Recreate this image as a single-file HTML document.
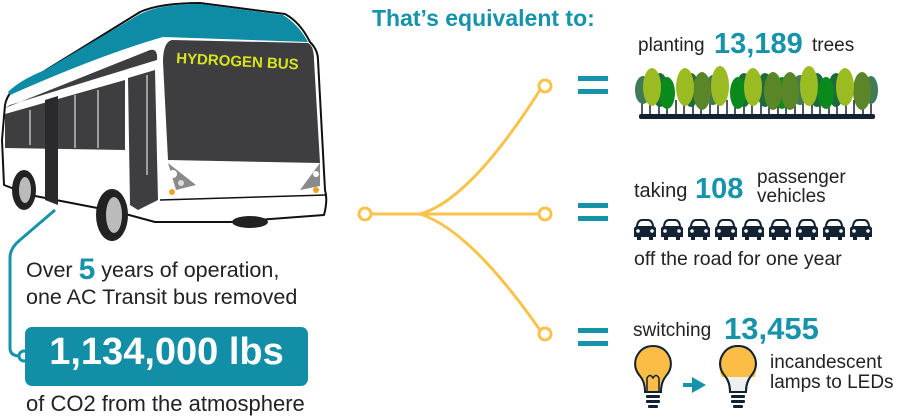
<!DOCTYPE html>
<html><head><meta charset="utf-8"><style>
body{margin:0;width:898px;height:419px;background:#fff;overflow:hidden;font-family:"Liberation Sans",sans-serif;color:#222}
.a{position:absolute;white-space:nowrap}
.t{color:#1593ab;font-weight:bold}
</style></head><body>
<svg width="898" height="419" style="position:absolute;left:0;top:0">
<path d="M55,210 L20,240 Q10,248 10,258 L10,348 Q10,356 20,356" fill="none" stroke="#1593ab" stroke-width="3"/>
<circle cx="24" cy="356" r="5" fill="#fff" stroke="#1593ab" stroke-width="3"/>
<rect x="25" y="327" width="283" height="59" rx="7" fill="#128fa6"/>
<g fill="none" stroke="#f9c24a" stroke-width="3">
<path d="M371,214 L420,214 M420,214 Q470,200 540,90 M420,214 L539,214 M420,214 Q470,230 540,330"/>
<circle cx="365" cy="214" r="6" fill="#fff"/>
<circle cx="545" cy="86" r="6" fill="#fff"/>
<circle cx="545" cy="214" r="6" fill="#fff"/>
<circle cx="545" cy="334" r="6" fill="#fff"/>
</g>
<g fill="#1593ab">
<rect x="578" y="76" width="30" height="5"/><rect x="578" y="89" width="30" height="5"/>
<rect x="578" y="203" width="30" height="5"/><rect x="578" y="216" width="30" height="5"/>
<rect x="578" y="328" width="30" height="5"/><rect x="578" y="341" width="30" height="5"/>
</g>
<g>
<rect x="639" y="114" width="236" height="5" rx="2" fill="#122233"/>
<g stroke="#122233" stroke-width="1.5">
<path d="M642,100V115M650,100V115M659,100V115M667,100V115M676,100V115M684,100V115M693,100V115M701,100V115M710,100V115M718,100V115M727,100V115M735,100V115M744,100V115M752,100V115M761,100V115M769,100V115M778,100V115M786,100V115M795,100V115M803,100V115M812,100V115M820,100V115M829,100V115M837,100V115M846,100V115M854,100V115M863,100V115M871,100V115"/>
</g>
<ellipse cx="643" cy="90" rx="8" ry="14" fill="#3f7a59"/>
<ellipse cx="660" cy="90" rx="8" ry="17" fill="#1c6b3a"/>
<ellipse cx="691" cy="90" rx="8" ry="17" fill="#1c6b3a"/>
<ellipse cx="713" cy="90" rx="8" ry="15" fill="#3f7a59"/>
<ellipse cx="744" cy="90" rx="8" ry="17" fill="#1c6b3a"/>
<ellipse cx="765" cy="90" rx="8" ry="17" fill="#1c6b3a"/>
<ellipse cx="800" cy="90" rx="8" ry="15" fill="#3f7a59"/>
<ellipse cx="817" cy="90" rx="8" ry="17" fill="#1c6b3a"/>
<ellipse cx="836" cy="90" rx="8" ry="17" fill="#1c6b3a"/>
<ellipse cx="871" cy="90" rx="7" ry="14" fill="#3f7a59"/>
<ellipse cx="667" cy="93" rx="8" ry="16" fill="#0b8a1c"/>
<ellipse cx="738" cy="93" rx="8" ry="16" fill="#0b8a1c"/>
<ellipse cx="782" cy="93" rx="8" ry="16" fill="#0b8a1c"/>
<ellipse cx="826" cy="93" rx="8" ry="16" fill="#0b8a1c"/>
<ellipse cx="702" cy="91" rx="9" ry="19" fill="#5a8628"/>
<ellipse cx="773" cy="91" rx="9" ry="19" fill="#5a8628"/>
<ellipse cx="790" cy="91" rx="9" ry="19" fill="#5a8628"/>
<ellipse cx="862" cy="91" rx="9" ry="19" fill="#5a8628"/>
<ellipse cx="652" cy="87" rx="9" ry="19" fill="#9bbb23"/>
<ellipse cx="685" cy="87" rx="9" ry="19" fill="#9bbb23"/>
<ellipse cx="720" cy="86" rx="9" ry="20" fill="#9bbb23"/>
<ellipse cx="753" cy="87" rx="9" ry="19" fill="#9bbb23"/>
<ellipse cx="809" cy="86" rx="9" ry="20" fill="#9bbb23"/>
<ellipse cx="845" cy="87" rx="9" ry="19" fill="#9bbb23"/>
</g>
<defs><g id="car" fill="#122233">
<path d="M4,8 Q5,1 10,1 L16,1 Q21,1 22,8 L24,10 L24,19 L21,19 L21,22 L17,22 L17,19 L9,19 L9,22 L5,22 L5,19 L2,19 L2,10 Z"/>
<path d="M6,8 Q7,3 10,3 L16,3 Q19,3 20,8 Z" fill="#fff"/>
<circle cx="6" cy="13" r="1.8" fill="#fff"/><circle cx="20" cy="13" r="1.8" fill="#fff"/>
</g></defs>
<use href="#car" x="632" y="218"/><use href="#car" x="659" y="218"/><use href="#car" x="686" y="218"/><use href="#car" x="713" y="218"/><use href="#car" x="740" y="218"/><use href="#car" x="767" y="218"/><use href="#car" x="794" y="218"/><use href="#car" x="821" y="218"/><use href="#car" x="848" y="218"/>
<g stroke="#122233" stroke-width="2">
<path d="M645,392 Q645,382 640,376 Q633,368 636,358 Q641,346 653,346 Q665,346 670,358 Q673,368 666,376 Q661,382 661,392 Z" fill="#fbbd46"/>
<path d="M647,392 L647,378 Q650,373 653,378 Q656,373 659,378 L659,392" fill="none" stroke-width="1.5"/>
<path d="M730,392 Q730,382 725,376 Q718,368 721,358 Q726,346 738,346 Q750,346 755,358 Q758,368 751,376 Q746,382 746,392 Z" fill="#eef0ef"/>
<path d="M721.5,377 Q718,368 721,358 Q726,346 738,346 Q750,346 755,358 Q758,368 754.5,377 Z" fill="#fbbd46" stroke="none"/>
<path d="M730,392 Q730,382 725,376 Q718,368 721,358 Q726,346 738,346 Q750,346 755,358 Q758,368 751,376 Q746,382 746,392 Z" fill="none"/>
</g>
<g fill="#122233"><rect x="646" y="395" width="14" height="3" rx="1"/><rect x="646" y="400" width="14" height="3" rx="1"/><rect x="648" y="405" width="10" height="3" rx="1"/>
<rect x="731" y="395" width="14" height="3" rx="1"/><rect x="731" y="400" width="14" height="3" rx="1"/><rect x="733" y="405" width="10" height="3" rx="1"/></g>
<rect x="683" y="383" width="10" height="4" fill="#1593ab"/><path d="M692,377 L706,385 L692,393 Z" fill="#1593ab"/>
<g stroke="#111" stroke-width="2" stroke-linejoin="round">
<path d="M5,105 Q8,88 30,80 L140,12 Q160,3 200,3 L285,14 Q300,22 310,42 Q318,50 318,60 L325,190 Q328,200 324,215 L230,222 L155,222 L118,212 L30,195 L4,185 L2,140 Z" fill="#fff"/>
<path d="M8,92 Q20,80 45,70 L140,14 Q160,4 200,4 L283,15 Q298,24 308,42 L163,37 Q100,55 10,95 Z" fill="#0e8ca6" stroke-width="0"/>
<path d="M163,62 Q163,42 172,40 L308,43 Q314,46 314,60 L320,163 L168,160 Z" fill="#3e3e40" stroke="none"/>
<path d="M5,108 L150,50 Q158,48 157,60 L10,105 Z" fill="#3e3e40" stroke="none"/>
<path d="M5,114 L125,80 L125,150 L5,148 Z" fill="#3e3e40" stroke="none"/>
<path d="M128,78 L155,70 L158,200 L138,210 L130,205 Z" fill="#3e3e40" stroke="none"/>
<path d="M45,100 L58,96 L58,205 L45,200 Z" fill="#2a2a2c" stroke="none"/>
</g>
<g stroke="#fff" stroke-width="1"><path d="M30,110V145M75,95V148M98,90V148M147,75V175"/></g>
<path d="M168,163 L196,185 L176,190 Z" fill="#8a8a8c"/><circle cx="173" cy="174" r="4" fill="#fff"/><circle cx="181" cy="183" r="3" fill="#ddd"/><circle cx="172" cy="192" r="3" fill="#f7a21b"/>
<path d="M320,163 L300,190 L320,186 Z" fill="#8a8a8c"/><circle cx="316" cy="174" r="3" fill="#fff"/><circle cx="316" cy="190" r="3" fill="#f7a21b"/>
<path d="M160,200 L326,195" stroke="#111" stroke-width="1.5"/>
<ellipse cx="112" cy="215" rx="16" ry="26" fill="#222"/><ellipse cx="114" cy="215" rx="8" ry="18" fill="#bbb"/>
<ellipse cx="24" cy="190" rx="12" ry="20" fill="#222"/><ellipse cx="25" cy="190" rx="6" ry="13" fill="#bbb"/>
<ellipse cx="250" cy="222" rx="18" ry="6" fill="#222"/>
<text x="176" y="63" font-family="Liberation Sans" font-weight="bold" font-size="15" fill="#d8e41c" transform="rotate(3 176 63)">HYDROGEN BUS</text>
</svg>
<div class="a t" style="left:372px;top:5px;font-size:23px">That’s equivalent to:</div>
<div class="a" style="left:26px;top:251px;font-size:21.5px">Over <span class="t" style="font-size:30px;position:relative;top:2px">5</span> years of operation,</div>
<div class="a" style="left:26px;top:285px;font-size:21.5px">one AC Transit bus removed</div>
<div class="a" style="left:25px;top:331px;width:283px;text-align:center;color:#fff;font-weight:bold;font-size:38px">1,134,000 lbs</div>
<div class="a" style="left:26px;top:391px;font-size:22px">of CO2 from the atmosphere</div>
<div class="a" style="left:638px;top:35px;font-size:19px">planting</div>
<div class="a t" style="left:714px;top:28px;font-size:29px">13,189</div>
<div class="a" style="left:812px;top:35px;font-size:19px">trees</div>
<div class="a" style="left:634px;top:180px;font-size:20px">taking</div>
<div class="a t" style="left:695px;top:173px;font-size:29px">108</div>
<div class="a" style="left:757px;top:168px;font-size:19px;line-height:19px">passenger<br>vehicles</div>
<div class="a" style="left:634px;top:248px;font-size:19.5px">off the road for one year</div>
<div class="a" style="left:633px;top:320px;font-size:19px">switching</div>
<div class="a t" style="left:724px;top:311px;font-size:31px">13,455</div>
<div class="a" style="left:770px;top:353px;font-size:19px;line-height:20px">incandescent<br>lamps to LEDs</div>
</body></html>
